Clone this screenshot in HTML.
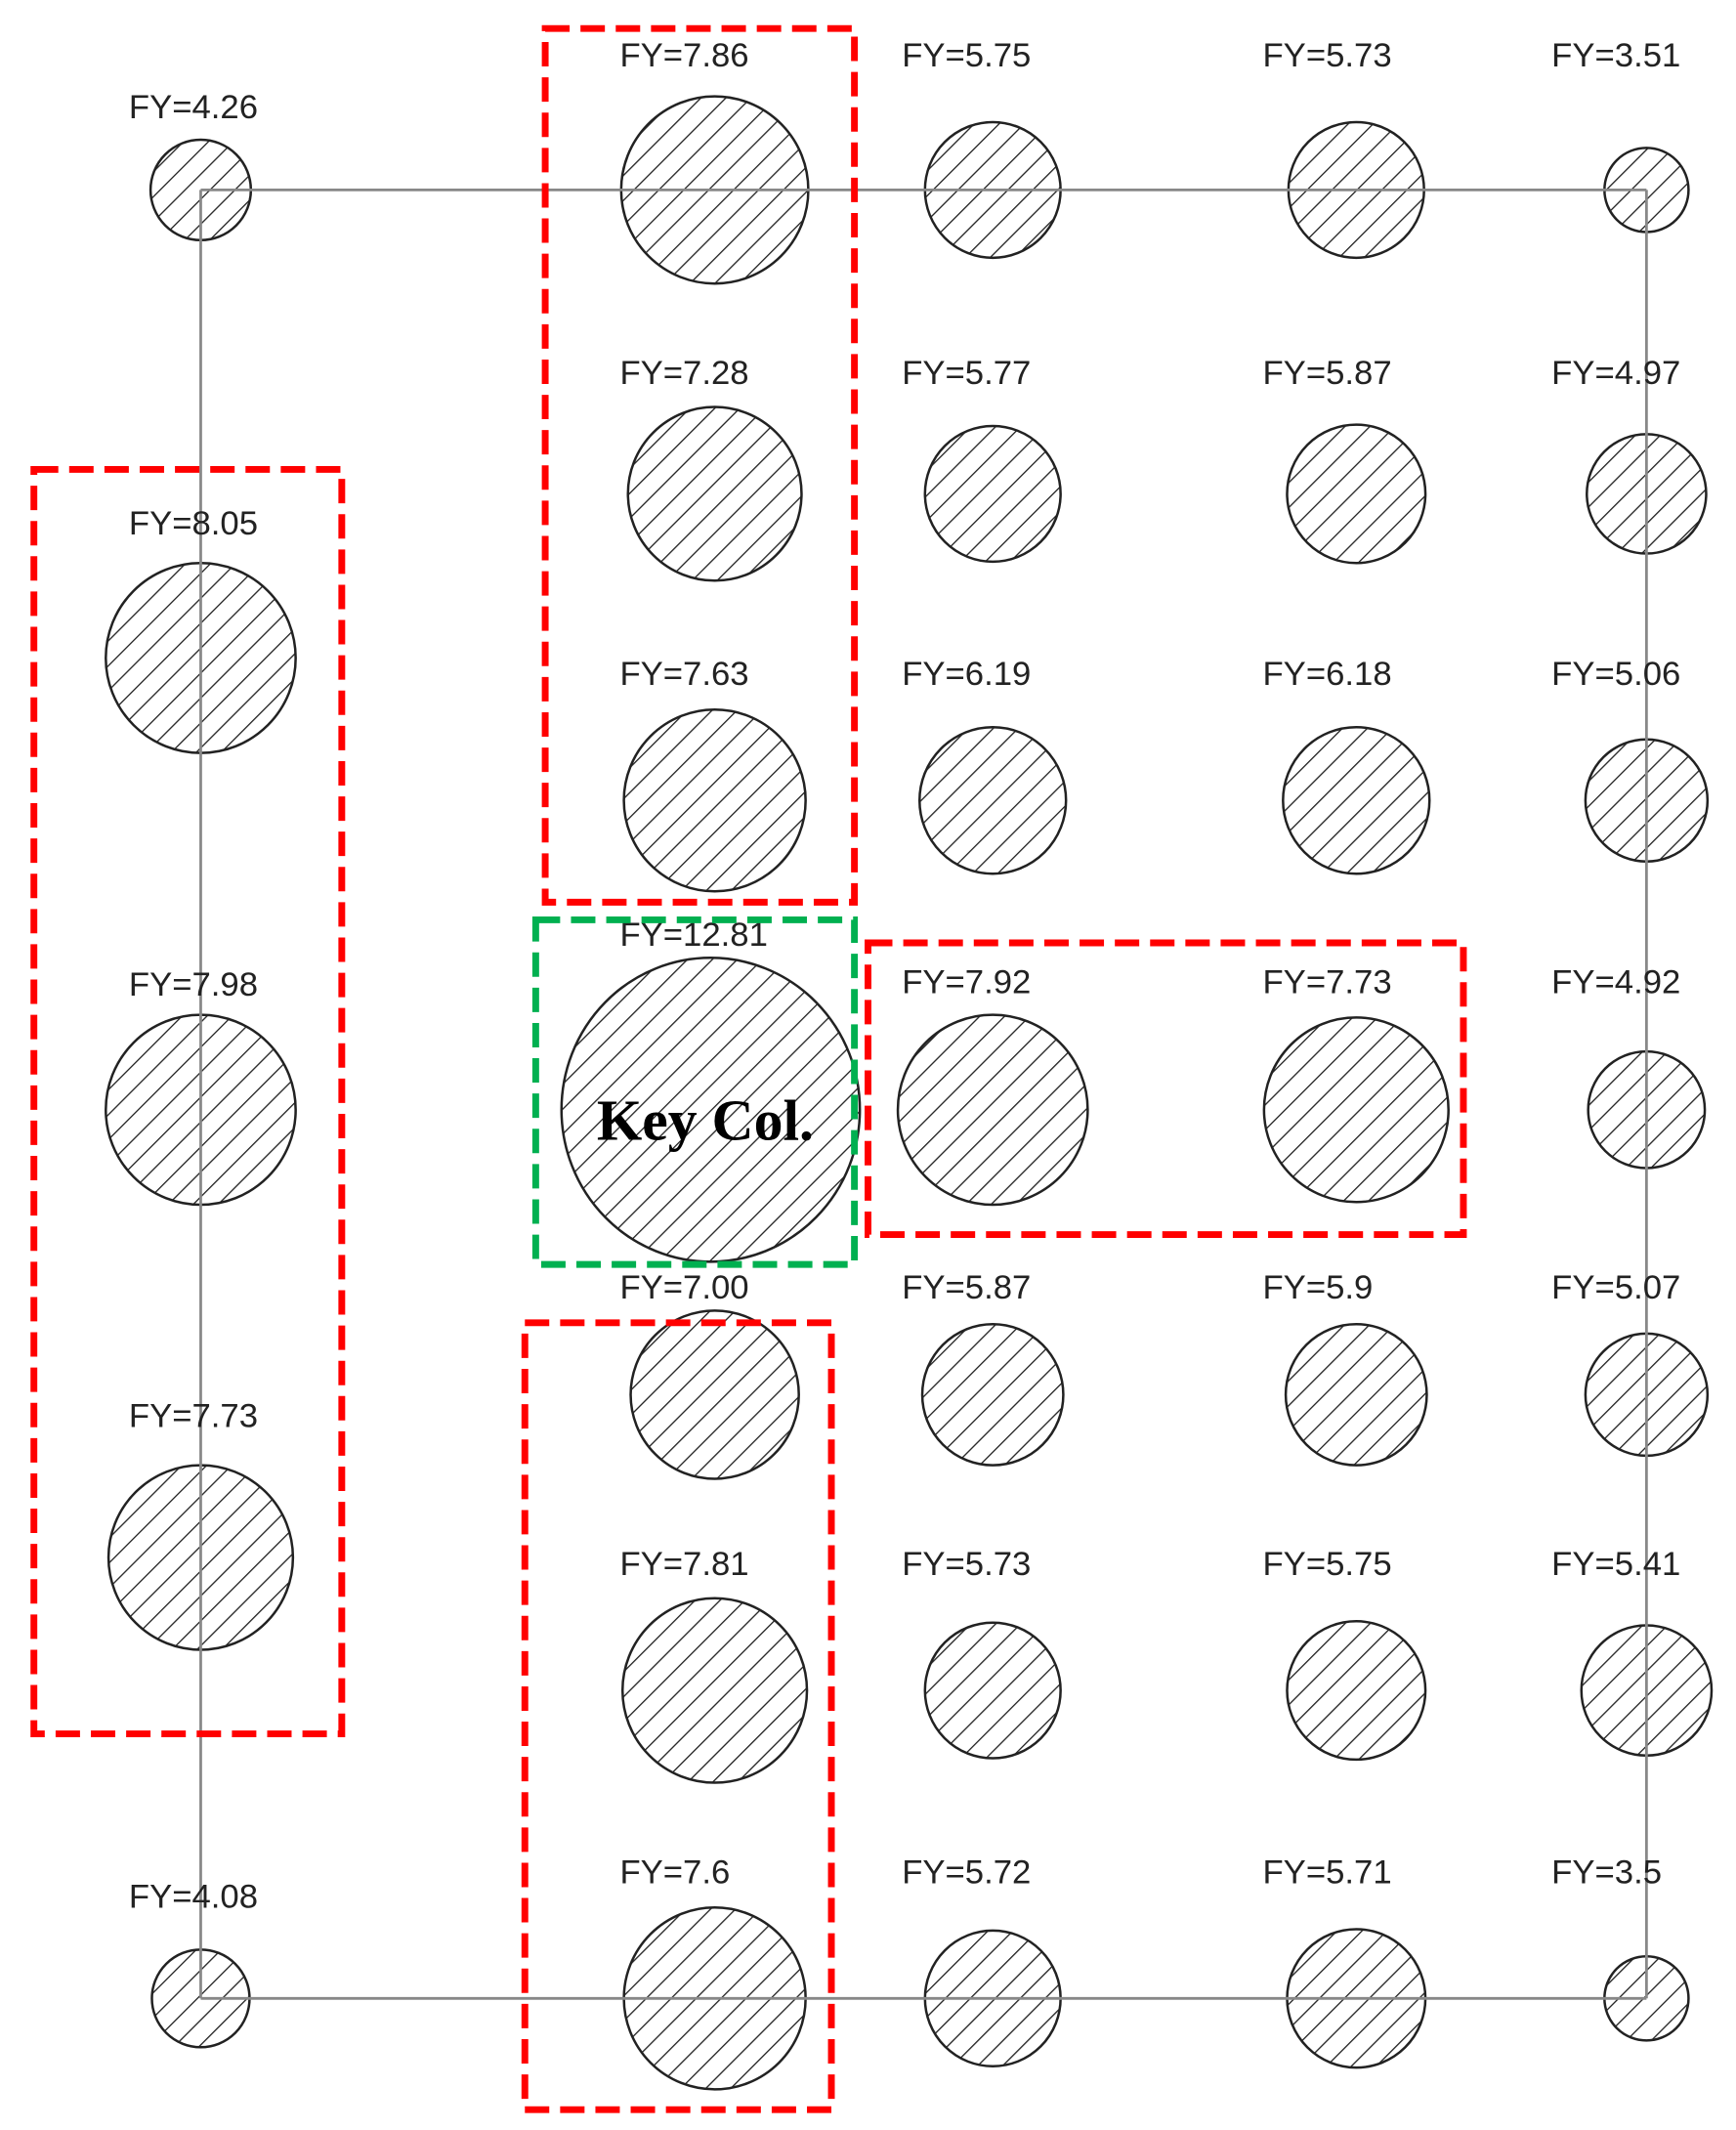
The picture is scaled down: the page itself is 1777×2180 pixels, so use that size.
<!DOCTYPE html>
<html><head><meta charset="utf-8"><style>html,body{margin:0;padding:0;background:#fff}svg{display:block}</style></head>
<body>
<svg width="1777" height="2180" viewBox="0 0 1280 1570" preserveAspectRatio="none" xmlns="http://www.w3.org/2000/svg">
<defs>
<pattern id="h" patternUnits="userSpaceOnUse" width="13" height="13" patternTransform="rotate(45)">
<rect width="13" height="13" fill="#fff"/><line x1="0" y1="0" x2="0" y2="13" stroke="#222" stroke-width="1.9"/>
</pattern>
</defs>
<g fill="url(#h)" stroke="#222" stroke-width="1.8">
<circle cx="148" cy="140" r="37"/>
<circle cx="527" cy="140" r="69"/>
<circle cx="732" cy="140" r="50"/>
<circle cx="1000" cy="140" r="50"/>
<circle cx="1214" cy="140" r="31"/>
<circle cx="527" cy="364" r="64"/>
<circle cx="732" cy="364" r="50"/>
<circle cx="1000" cy="364" r="51"/>
<circle cx="1214" cy="364" r="44"/>
<circle cx="148" cy="485" r="70"/>
<circle cx="148" cy="818" r="70"/>
<circle cx="148" cy="1148" r="68"/>
<circle cx="527" cy="590" r="67"/>
<circle cx="732" cy="590" r="54"/>
<circle cx="1000" cy="590" r="54"/>
<circle cx="1214" cy="590" r="45"/>
<ellipse cx="524" cy="818" rx="110" ry="112"/>
<circle cx="732" cy="818" r="70"/>
<circle cx="1000" cy="818" r="68"/>
<circle cx="1214" cy="818" r="43"/>
<circle cx="527" cy="1028" r="62"/>
<circle cx="732" cy="1028" r="52"/>
<circle cx="1000" cy="1028" r="52"/>
<circle cx="1214" cy="1028" r="45"/>
<circle cx="527" cy="1246" r="68"/>
<circle cx="732" cy="1246" r="50"/>
<circle cx="1000" cy="1246" r="51"/>
<circle cx="1214" cy="1246" r="48"/>
<circle cx="148" cy="1473" r="36"/>
<circle cx="527" cy="1473" r="67"/>
<circle cx="732" cy="1473" r="50"/>
<circle cx="1000" cy="1473" r="51"/>
<circle cx="1214" cy="1473" r="31"/>
</g>
<g stroke="#888" stroke-width="2">
<line x1="148" y1="140" x2="148" y2="1473"/>
<line x1="1214" y1="140" x2="1214" y2="1473"/>
<line x1="148" y1="140" x2="1214" y2="140"/>
<line x1="148" y1="1473" x2="1214" y2="1473"/>
</g>
<g font-family="Liberation Sans, sans-serif" font-size="25" fill="#222">
<text x="95" y="87">FY=4.26</text>
<text x="457" y="49">FY=7.86</text><text x="665" y="49">FY=5.75</text><text x="931" y="49">FY=5.73</text><text x="1144" y="49">FY=3.51</text>
<text x="457" y="283">FY=7.28</text><text x="665" y="283">FY=5.77</text><text x="931" y="283">FY=5.87</text><text x="1144" y="283">FY=4.97</text>
<text x="95" y="394">FY=8.05</text>
<text x="457" y="505">FY=7.63</text><text x="665" y="505">FY=6.19</text><text x="931" y="505">FY=6.18</text><text x="1144" y="505">FY=5.06</text>
<text x="457" y="697">FY=12.81</text>
<text x="95" y="734">FY=7.98</text>
<text x="665" y="732">FY=7.92</text><text x="931" y="732">FY=7.73</text><text x="1144" y="732">FY=4.92</text>
<text x="457" y="957">FY=7.00</text><text x="665" y="957">FY=5.87</text><text x="931" y="957">FY=5.9</text><text x="1144" y="957">FY=5.07</text>
<text x="95" y="1052">FY=7.73</text>
<text x="457" y="1161">FY=7.81</text><text x="665" y="1161">FY=5.73</text><text x="931" y="1161">FY=5.75</text><text x="1144" y="1161">FY=5.41</text>
<text x="457" y="1388">FY=7.6</text><text x="665" y="1388">FY=5.72</text><text x="931" y="1388">FY=5.71</text><text x="1144" y="1388">FY=3.5</text>
<text x="95" y="1406">FY=4.08</text>
</g>
<text x="520" y="840" text-anchor="middle" font-family="Liberation Serif, serif" font-weight="bold" font-size="43" fill="#000">Key Col.</text>
<g fill="none" stroke="#ff0000" stroke-width="5" stroke-dasharray="18 8">
<rect x="402" y="21" width="228" height="644"/>
<rect x="25" y="346" width="227" height="932"/>
<rect x="640" y="695" width="439" height="215"/>
<rect x="387" y="975" width="226" height="580"/>
</g>
<rect x="395" y="678" width="235" height="254" fill="none" stroke="#00b050" stroke-width="5" stroke-dasharray="18 8"/>
</svg>
</body></html>
